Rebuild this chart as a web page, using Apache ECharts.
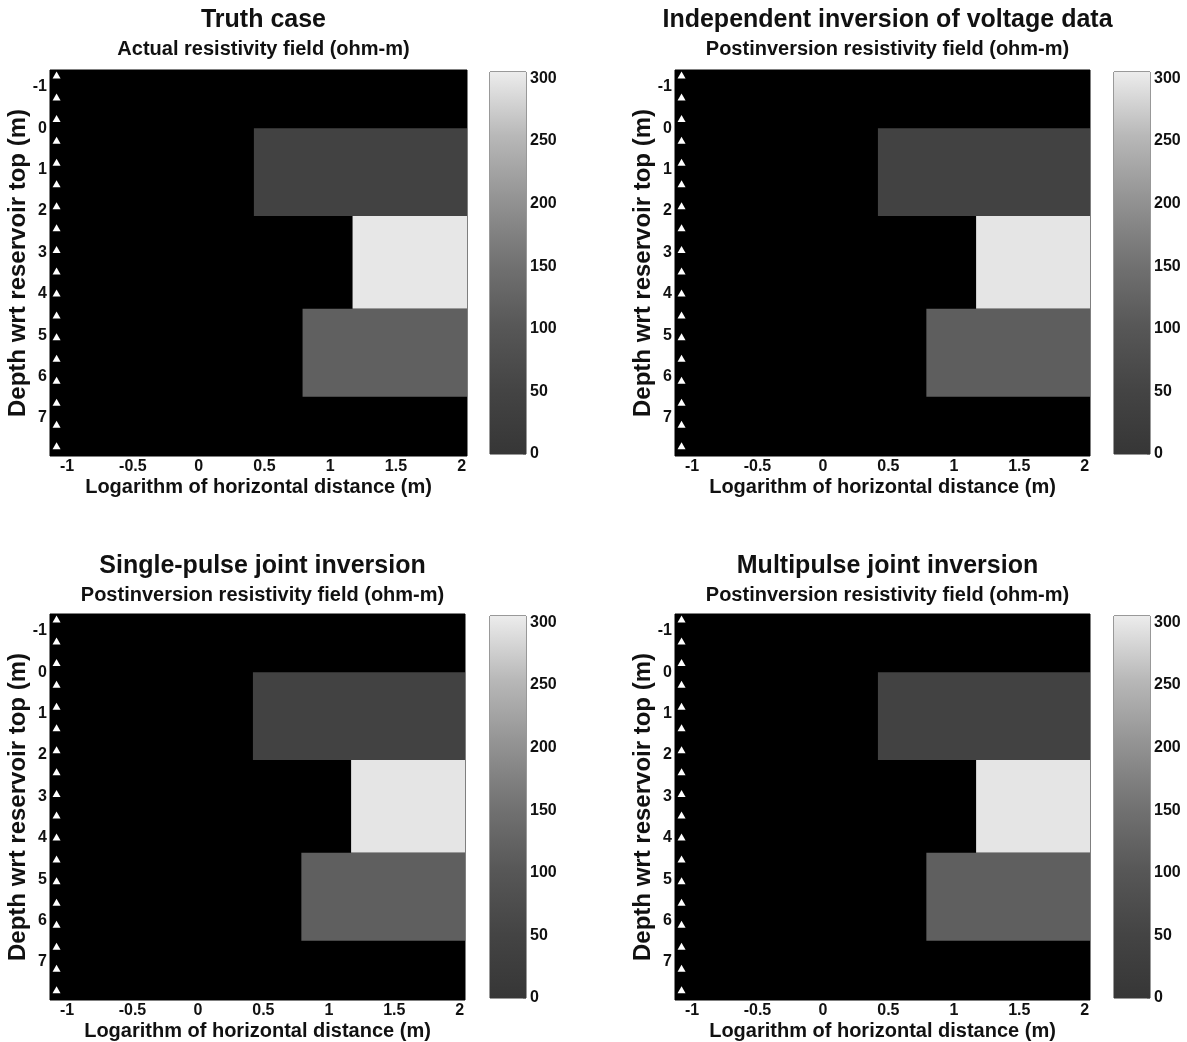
<!DOCTYPE html>
<html>
<head>
<meta charset="utf-8">
<script src="https://cdn.jsdelivr.net/npm/echarts@6/dist/echarts.min.js"></script>
<style>html,body{margin:0;padding:0;background:#fff;}#c{width:1187px;height:1042px;}</style>
</head>
<body>
<div id="c"></div>
<script>
// ---------- data ----------
const panelTitles = ['Truth case', 'Independent inversion of voltage data', 'Single-pulse joint inversion', 'Multipulse joint inversion'];
const panelSubtitles = ['Actual resistivity field (ohm-m)', 'Postinversion resistivity field (ohm-m)', 'Postinversion resistivity field (ohm-m)', 'Postinversion resistivity field (ohm-m)'];
const xTickValues = [-1, -0.5, 0, 0.5, 1, 1.5, 2];
const yTickValues = [-1, 0, 1, 2, 3, 4, 5, 6, 7];
const colorbarTicks = [0, 50, 100, 150, 200, 250, 300];
// layer blocks: [xStart, xEnd, depthTop, depthBottom]
const blockTop = [0.42, 2.04, 0.0, 2.12];
const blockMiddle = [1.17, 2.04, 2.12, 4.36];
const blockBottom = [0.79, 2.04, 4.36, 6.49];
// resistivity of [top, middle, bottom] block for each panel
const truthValues = [45, 300, 118];
const voltageInvValues = [45, 298, 114];
const singlePulseValues = [45, 298, 116];
const multiPulseValues = [45, 298, 116];
// electrode depths (white triangles)
const electrodeX = -1.08;
const electrodeDepths = [-1.29, -0.76, -0.24, 0.29, 0.82, 1.34, 1.87, 2.40, 2.93, 3.45, 3.98, 4.51, 5.04, 5.56, 6.09, 6.62, 7.15, 7.67];
const grayColors = ['#363636', '#444444', '#575757', '#727272', '#939393', '#b8b8b8', '#ececec'];

// ---------- layout ----------
const xMin = -1.13, xMax = 2.04, yMin = -1.41, yMax = 7.92, cbMax = 305;
const panels = [
  {left: 50, top: 70, w: 417, h: 386, cbLeft: 490, titleTop: 3},
  {left: 675, top: 70, w: 415, h: 386, cbLeft: 1114, titleTop: 3},
  {left: 50, top: 614, w: 415, h: 386, cbLeft: 490, titleTop: 549},
  {left: 675, top: 614, w: 415, h: 386, cbLeft: 1114, titleTop: 549}
];
const panelValues = [truthValues, voltageInvValues, singlePulseValues, multiPulseValues];
const FONT = '"Liberation Sans", Arial, Helvetica, sans-serif';
const TXT = '#111';

const chart = echarts.init(document.getElementById('c'), null, {renderer: 'canvas'});

const grid = [], xAxis = [], yAxis = [], series = [], title = [];
const blockSeriesIdx = [];

panels.forEach((p, i) => {
  const gi = i * 2, ci = i * 2 + 1;
  grid.push({left: p.left, top: p.top, width: p.w, height: p.h, show: true, backgroundColor: '#000', borderColor: '#000', borderWidth: 1, containLabel: false});
  grid.push({left: p.cbLeft, top: p.top + 2, width: 36, height: p.h - 4, show: true, backgroundColor: 'transparent', borderColor: '#333', borderWidth: 1, containLabel: false});
  xAxis.push({
    type: 'value', gridIndex: gi, min: xMin, max: xMax,
    name: 'Logarithm of horizontal distance (m)', nameLocation: 'middle', nameGap: 21,
    nameTextStyle: {fontFamily: FONT, fontWeight: 'bold', fontSize: 20, color: TXT},
    axisLine: {show: false}, axisTick: {show: false}, splitLine: {show: false},
    axisLabel: {customValues: xTickValues, fontFamily: FONT, fontWeight: 'bold', fontSize: 16, color: TXT, margin: 3, hideOverlap: false}
  });
  yAxis.push({
    type: 'value', gridIndex: gi, min: yMin, max: yMax, inverse: true,
    name: 'Depth wrt reservoir top (m)', nameLocation: 'middle', nameGap: 20, nameRotate: 90,
    nameMoveOverlap: false,
    nameTextStyle: {fontFamily: FONT, fontWeight: 'bold', fontSize: 24, color: TXT},
    axisLine: {show: false}, axisTick: {show: false}, splitLine: {show: false},
    axisLabel: {customValues: yTickValues, fontFamily: FONT, fontWeight: 'bold', fontSize: 16, color: TXT, margin: 3, hideOverlap: false}
  });
  xAxis.push({type: 'value', gridIndex: ci, min: 0, max: 1, show: false});
  yAxis.push({
    type: 'value', gridIndex: ci, min: 0, max: cbMax, position: 'right',
    axisLine: {show: false, onZero: false}, splitLine: {show: false},
    axisTick: {show: true, inside: true, length: 3, customValues: colorbarTicks, lineStyle: {color: '#777'}},
    axisLabel: {customValues: colorbarTicks, fontFamily: FONT, fontWeight: 'bold', fontSize: 16, color: TXT, margin: 4, hideOverlap: false}
  });
  const vals = panelValues[i];
  blockSeriesIdx.push(series.length);
  series.push({
    type: 'custom', xAxisIndex: gi, yAxisIndex: gi,
    encode: {x: [0, 1], y: [2, 3]},
    data: [blockTop.concat([vals[0]]), blockMiddle.concat([vals[1]]), blockBottom.concat([vals[2]])],
    renderItem: function (params, api) {
      const a = api.coord([api.value(0), api.value(2)]);
      const b = api.coord([api.value(1), api.value(3)]);
      return {type: 'rect', shape: {x: Math.min(a[0], b[0]), y: Math.min(a[1], b[1]), width: Math.abs(b[0] - a[0]), height: Math.abs(b[1] - a[1])}, style: {fill: api.visual('color')}};
    },
    silent: true, animation: false, z: 2
  });
  series.push({
    type: 'scatter', xAxisIndex: gi, yAxisIndex: gi,
    data: electrodeDepths.map(d => [electrodeX, d]),
    symbol: 'triangle', symbolSize: [8, 7], itemStyle: {color: '#fff', opacity: 1}, silent: true, animation: false, z: 5
  });
  series.push({
    type: 'custom', xAxisIndex: ci, yAxisIndex: ci,
    encode: {x: [0, 1], y: [2, 3]},
    data: [[0, 1, 0, cbMax]],
    renderItem: function (params, api) {
      const a = api.coord([api.value(0), api.value(2)]);
      const b = api.coord([api.value(1), api.value(3)]);
      const stops = grayColors.map((c, k) => ({offset: k / (grayColors.length - 1), color: c}));
      return {type: 'rect', shape: {x: Math.min(a[0], b[0]), y: Math.min(a[1], b[1]), width: Math.abs(b[0] - a[0]), height: Math.abs(b[1] - a[1])},
        style: {fill: new echarts.graphic.LinearGradient(0, 1, 0, 0, stops)}};
    },
    silent: true, animation: false, z: 1
  });
  title.push({
    text: panelTitles[i], subtext: panelSubtitles[i],
    left: p.left + p.w / 2, top: p.titleTop, textAlign: 'center', itemGap: 6,
    textStyle: {fontFamily: FONT, fontWeight: 'bold', fontSize: 25, color: TXT},
    subtextStyle: {fontFamily: FONT, fontWeight: 'bold', fontSize: 20, color: TXT}
  });
});

chart.setOption({
  animation: false,
  backgroundColor: '#fff',
  title: title,
  grid: grid,
  xAxis: xAxis,
  yAxis: yAxis,
  visualMap: [{
    type: 'continuous', show: false, min: 0, max: cbMax, dimension: 4,
    seriesIndex: blockSeriesIdx, inRange: {color: grayColors}
  }],
  series: series
});
</script>
</body>
</html>
